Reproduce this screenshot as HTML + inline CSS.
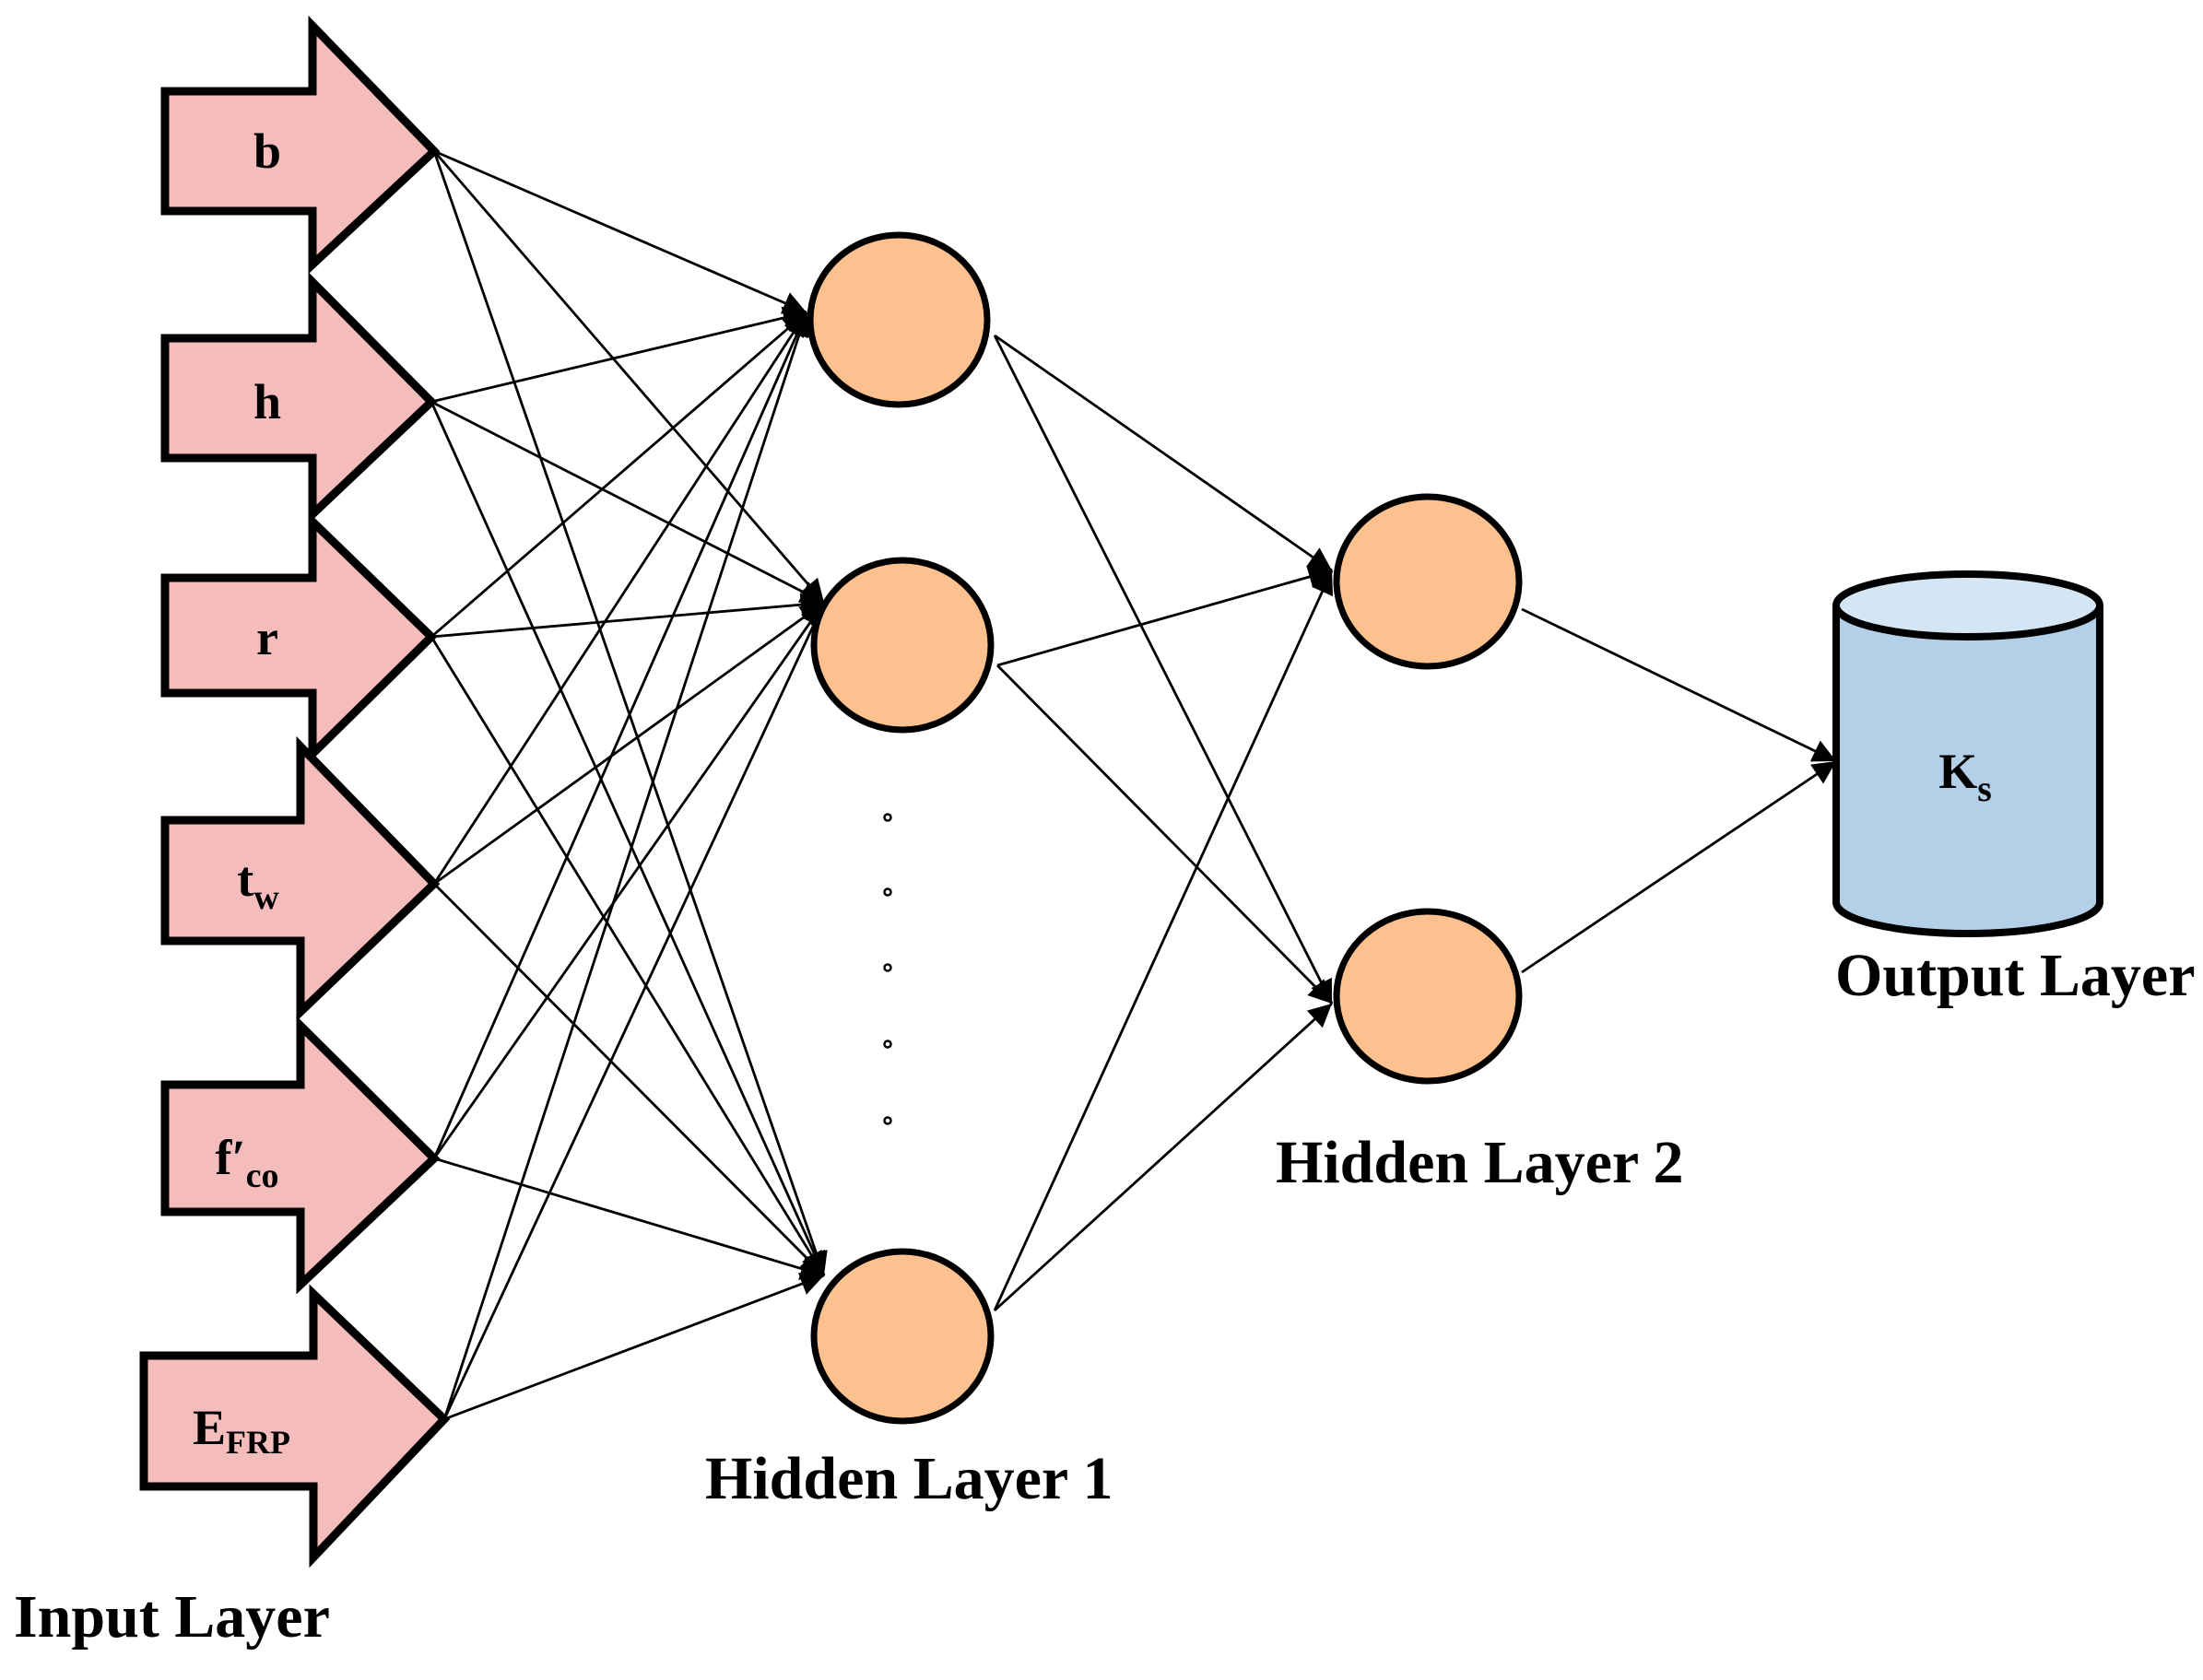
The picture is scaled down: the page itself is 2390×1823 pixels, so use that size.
<!DOCTYPE html>
<html><head><meta charset="utf-8"><style>
html,body{margin:0;padding:0;background:#fff;}
svg{display:block;}
text{font-family:"Liberation Serif",serif;font-weight:bold;fill:#000;}
</style></head><body>
<svg id="s" width="2390" height="1823" viewBox="0 0 2390 1823" xmlns="http://www.w3.org/2000/svg">
<defs>
<marker id="ah" viewBox="0 0 10 10" refX="10" refY="5" markerWidth="10" markerHeight="9" markerUnits="strokeWidth" orient="auto">
<path d="M0,0 L10,5 L0,10 z" fill="#000"/>
</marker>
</defs>
<g id="lines" stroke="#000" stroke-width="2.8" fill="none"></g>
<g stroke="#000" stroke-width="9" stroke-linejoin="miter" fill="#f5bcbc">
<polygon points="179,99 339,99 339,28 471,164 339,287 339,229 179,229"/>
<polygon points="179,367 339,367 339,306 468,436 339,558 339,497 179,497"/>
<polygon points="179,627 339,627 339,566 468,691 339,818 339,752 179,752"/>
<polygon points="179,890 326,890 326,810 471,959 326,1098 326,1021 179,1021"/>
<polygon points="179,1177 326,1177 326,1113 471,1257 326,1394 326,1315 179,1315"/>
<polygon points="156,1471 340,1471 340,1404 482,1540 340,1690 340,1613 156,1613"/>
</g>
<g stroke="#000" stroke-width="7" fill="#fdc190">
<ellipse cx="975" cy="347" rx="96" ry="92"/>
<ellipse cx="979" cy="700" rx="96" ry="92"/>
<ellipse cx="979" cy="1450" rx="96" ry="92"/>
<ellipse cx="1549" cy="631" rx="99" ry="92"/>
<ellipse cx="1549" cy="1081" rx="99" ry="92"/>
</g>
<g stroke="#000" stroke-width="2.5" fill="none">
<circle cx="963" cy="887" r="3.5"/><circle cx="963" cy="968" r="3.5"/><circle cx="963" cy="1050" r="3.5"/><circle cx="963" cy="1133" r="3.5"/><circle cx="963" cy="1216" r="3.5"/>
</g>
<g stroke="#000" stroke-width="8">
<path d="M1992,657 L1992,979 A143,34 0 0 0 2278,979 L2278,657" fill="#b4cfe8"/>
<ellipse cx="2135" cy="657" rx="143" ry="34" fill="#d4e6f4"/>
</g>
<g font-size="54" text-anchor="middle">
<text x="290" y="182">b</text>
<text x="290" y="454">h</text>
<text x="290" y="710">r</text>
<text x="280" y="972">t<tspan font-size="38" dy="14">w</tspan></text>
<text x="268" y="1274">f′<tspan font-size="38" dy="14">co</tspan></text>
<text x="262" y="1567">E<tspan font-size="36" dy="10">FRP</tspan></text>
<text x="2132" y="855">K<tspan font-size="40" dy="14">s</tspan></text>
</g>
<g font-size="66">
<text x="15" y="1776">Input Layer</text>
<text x="765" y="1626">Hidden Layer 1</text>
<text x="1384" y="1283">Hidden Layer 2</text>
<text x="1991" y="1080">Output Layer</text>
</g>
</svg>
<script>
(function(){
var g=document.getElementById('lines');
var ns='http://www.w3.org/2000/svg';
function line(x1,y1,x2,y2){var l=document.createElementNS(ns,'line');l.setAttribute('x1',x1);l.setAttribute('y1',y1);l.setAttribute('x2',x2);l.setAttribute('y2',y2);l.setAttribute('marker-end','url(#ah)');g.appendChild(l);}
var tips=[[471,164],[468,436],[468,691],[471,959],[471,1257],[482,1540]];
var t1=[[875,339],[894,654],[894,1384]];
tips.forEach(function(p){t1.forEach(function(t){line(p[0],p[1],t[0],t[1]);});});
var s1=[[1079,364],[1082,722],[1079,1422]];
var t2=[[1445,619],[1445,1089]];
s1.forEach(function(s){t2.forEach(function(t){line(s[0],s[1],t[0],t[1]);});});
line(1651,661,1992,826);
line(1651,1055,1992,826);
})();
</script>
</body></html>
